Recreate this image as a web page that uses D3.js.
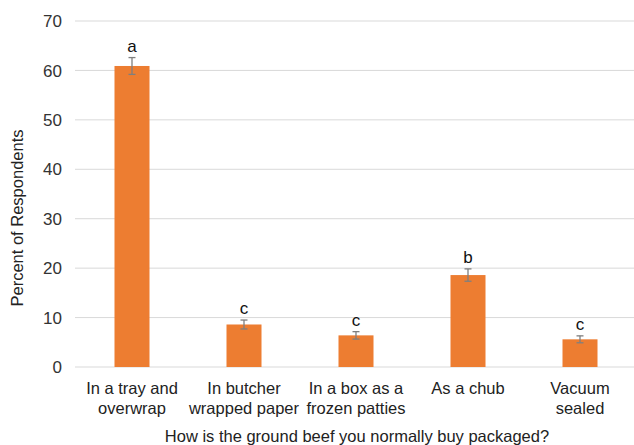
<!DOCTYPE html>
<html><head><meta charset="utf-8">
<script src="https://cdn.jsdelivr.net/npm/d3@7"></script>
<style>body{margin:0;background:#fff}svg{display:block}text{font-family:"Liberation Sans",Arial,sans-serif}</style>
</head><body><svg id="c" width="634" height="445"></svg>
<script>
const categories = [["In a tray and","overwrap"],["In butcher","wrapped paper"],["In a box as a","frozen patties"],["As a chub"],["Vacuum","sealed"]];
const values = [60.9, 8.6, 6.4, 18.6, 5.6];
const errors = [1.7, 0.9, 0.75, 1.25, 0.7];
const letters = ["a","c","c","b","c"];
const yTicks = [0,10,20,30,40,50,60,70];

const svg = d3.select("#c");
const keys = categories.map((c,i)=>i);
const x = d3.scaleBand().domain(keys).range([76,636]).paddingInner(0.6875).paddingOuter(0.34375);
const y = d3.scaleLinear().domain([0,70]).range([367,21]);

// gridlines
svg.append("g").selectAll("line").data(yTicks).join("line")
  .attr("x1",75).attr("x2",634).attr("y1",d=>y(d)).attr("y2",d=>y(d))
  .attr("stroke","#d9d9d9").attr("stroke-width",1);

// y tick labels
svg.append("g").selectAll("text").data(yTicks).join("text")
  .attr("x",62).attr("y",d=>y(d)).attr("dy","0.36em").attr("text-anchor","end")
  .attr("font-size",17).attr("fill","#333").text(d=>d);

// bars
svg.append("g").selectAll("rect").data(values).join("rect")
  .attr("x",(d,i)=>x(i)).attr("width",x.bandwidth())
  .attr("y",d=>y(d)).attr("height",d=>y(0)-y(d)).attr("fill","#ED7D31");

// error bars
const eg = svg.append("g").attr("stroke","#7f7f7f").attr("stroke-width",1.3);
values.forEach((v,i)=>{
  const cx = x(i)+x.bandwidth()/2;
  eg.append("line").attr("x1",cx).attr("x2",cx).attr("y1",y(v+errors[i])).attr("y2",y(v-errors[i]));
  eg.append("line").attr("x1",cx-3.5).attr("x2",cx+3.5).attr("y1",y(v+errors[i])).attr("y2",y(v+errors[i]));
  eg.append("line").attr("x1",cx-3.5).attr("x2",cx+3.5).attr("y1",y(v-errors[i])).attr("y2",y(v-errors[i]));
});

// significance letters
svg.append("g").selectAll("text").data(letters).join("text")
  .attr("x",(d,i)=>x(i)+x.bandwidth()/2).attr("y",(d,i)=>y(values[i]+errors[i])-6)
  .attr("text-anchor","middle").attr("font-size",17).attr("fill","#111").text(d=>d);

// category labels
const cg = svg.append("g");
categories.forEach((lines,i)=>{
  const t = cg.append("text").attr("x",x(i)+x.bandwidth()/2).attr("y",394)
    .attr("text-anchor","middle").attr("font-size",16.5).attr("fill","#222");
  lines.forEach((l,j)=>t.append("tspan").attr("x",x(i)+x.bandwidth()/2).attr("dy",j?19.5:0).text(l));
});

// axis titles
svg.append("text").attr("x",357).attr("y",442).attr("text-anchor","middle")
  .attr("font-size",16.5).attr("fill","#222").text("How is the ground beef you normally buy packaged?");
svg.append("text").attr("transform","translate(23,218) rotate(-90)").attr("text-anchor","middle")
  .attr("font-size",16.5).attr("fill","#222").text("Percent of Respondents");
</script></body></html>
